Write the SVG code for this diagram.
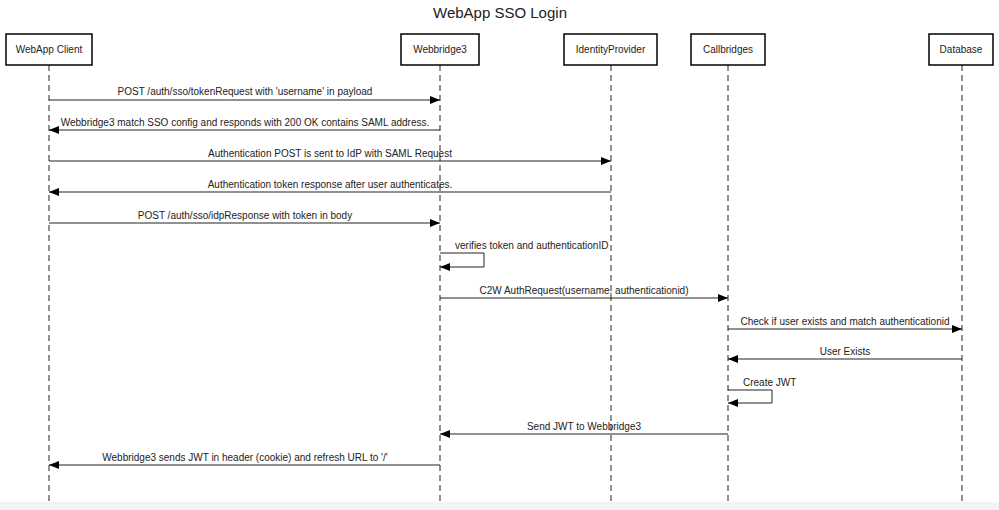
<svg xmlns="http://www.w3.org/2000/svg" width="999" height="510" viewBox="0 0 999 510">
<style>
text{font-family:"Liberation Sans",Arial,sans-serif;fill:#222}
.t{font-size:15px;text-anchor:middle}
.p{font-size:10px;text-anchor:middle}
.m{font-size:10px;text-anchor:middle}
.s{font-size:10px}
.box{fill:#fff;stroke:#000;stroke-width:1.5}
.life{stroke:#222;stroke-width:1;stroke-dasharray:6 4;fill:none}
.msg{stroke:#222;stroke-width:1;fill:none;marker-end:url(#ah)}
</style>
<defs>
<marker id="ah" viewBox="0 0 10 8" refX="10" refY="4" markerWidth="10" markerHeight="8" markerUnits="userSpaceOnUse" orient="auto">
<path d="M0,0 L10,4 L0,8 Z" fill="#000"/>
</marker>
</defs>
<rect x="0" y="0" width="999" height="510" fill="#fff"/>
<rect x="0" y="502" width="999" height="8" fill="#f3f3f3"/>
<text class="t" x="500" y="18">WebApp SSO Login</text>

<g id="client">
<line class="life" x1="49" y1="65" x2="49" y2="502"/>
<rect class="box" x="6" y="34" width="86" height="31"/>
<text class="p" x="49" y="53">WebApp Client</text>
</g>
<g id="webbridge3">
<line class="life" x1="440" y1="65" x2="440" y2="502"/>
<rect class="box" x="401" y="34" width="78" height="31"/>
<text class="p" x="440" y="53">Webbridge3</text>
</g>
<g id="idp">
<line class="life" x1="611" y1="65" x2="611" y2="502"/>
<rect class="box" x="564" y="34" width="93" height="31"/>
<text class="p" x="610.5" y="53">IdentityProvider</text>
</g>
<g id="callbridges">
<line class="life" x1="728" y1="65" x2="728" y2="502"/>
<rect class="box" x="691" y="34" width="74" height="31"/>
<text class="p" x="728" y="53">Callbridges</text>
</g>
<g id="database">
<line class="life" x1="962" y1="65" x2="962" y2="502"/>
<rect class="box" x="929" y="34" width="64" height="31"/>
<text class="p" x="961" y="53">Database</text>
</g>

<g id="connectors">
<line class="msg" x1="49" y1="100" x2="440" y2="100"/>
<text class="m" x="245" y="95">POST /auth/sso/tokenRequest with 'username' in payload</text>

<line class="msg" x1="440" y1="130" x2="49" y2="130"/>
<text class="m" x="245" y="126">Webbridge3 match SSO config and responds with 200 OK contains SAML address.</text>

<line class="msg" x1="49" y1="161" x2="611" y2="161"/>
<text class="m" x="330" y="157">Authentication POST is sent to IdP with SAML Request</text>

<line class="msg" x1="611" y1="192" x2="49" y2="192"/>
<text class="m" x="330" y="188">Authentication token response after user authenticates.</text>

<line class="msg" x1="49" y1="223" x2="440" y2="223"/>
<text class="m" x="245" y="219">POST /auth/sso/idpResponse with token in body</text>

<path class="msg" d="M440,253 H484 V267 H440"/>
<text class="s" x="455" y="249">verifies token and authenticationID</text>

<line class="msg" x1="440" y1="298" x2="728" y2="298"/>
<text class="m" x="584" y="294">C2W AuthRequest(username, authenticationid)</text>

<line class="msg" x1="728" y1="329" x2="962" y2="329"/>
<text class="m" x="845" y="325">Check if user exists and match authenticationid</text>

<line class="msg" x1="962" y1="359" x2="728" y2="359"/>
<text class="m" x="845" y="355">User Exists</text>

<path class="msg" d="M728,390 H772 V403 H728"/>
<text class="s" x="743" y="386">Create JWT</text>

<line class="msg" x1="728" y1="434" x2="440" y2="434"/>
<text class="m" x="584" y="430">Send JWT to Webbridge3</text>

<line class="msg" x1="440" y1="465" x2="49" y2="465"/>
<text class="m" x="245" y="461">Webbridge3 sends JWT in header (cookie) and refresh URL to '/'</text>
</g>
</svg>
